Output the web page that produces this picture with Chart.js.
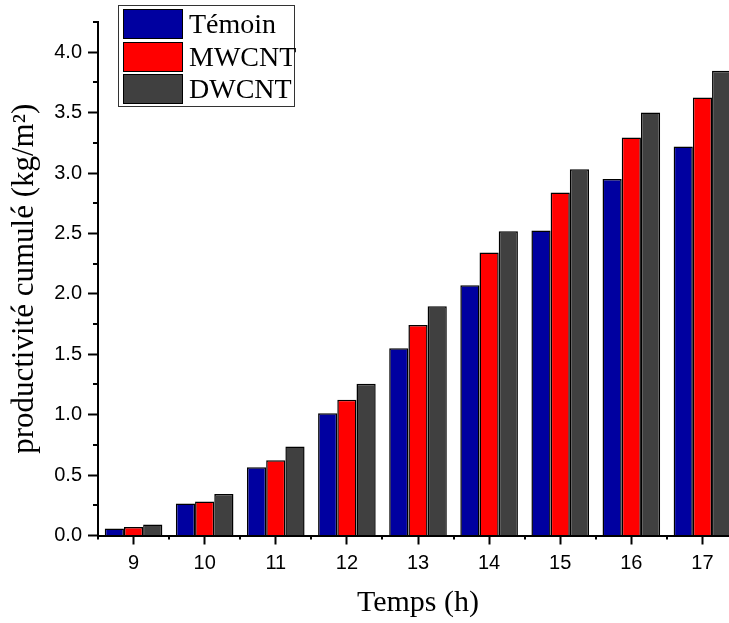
<!DOCTYPE html>
<html>
<head>
<meta charset="utf-8">
<script src="https://cdn.jsdelivr.net/npm/chart.js@4/dist/chart.umd.min.js"></script>
<style>
html,body{margin:0;padding:0;background:#fff;overflow:hidden;width:729px;height:623px;}
#wrap{position:relative;width:760px;height:623px;}
#c{display:block;}
#legend{position:absolute;left:118px;top:5px;width:177px;height:102px;border:1px solid #333;background:#fff;
  font-family:"Liberation Serif","Times New Roman",serif;font-size:28px;color:#000;box-sizing:border-box;}
.row{position:absolute;left:4px;height:30px;display:flex;align-items:center;white-space:nowrap;}
.sw{width:60px;height:30px;border:1px solid #000;box-sizing:border-box;margin-right:6px;}
</style>
</head>
<body>
<div id="wrap">
  <canvas id="c" width="760" height="623"></canvas>
  <div id="legend"></div>
</div>
<script>
// ---- data ----
const categories = ['9', '10', '11', '12', '13', '14', '15', '16', '17'];
const seriesNames = ['Témoin', 'MWCNT', 'DWCNT'];
const temoin = [0.058, 0.265, 0.565, 1.012, 1.550, 2.072, 2.525, 2.950, 3.220];
const mwcnt  = [0.071, 0.281, 0.623, 1.123, 1.743, 2.343, 2.839, 3.295, 3.626];
const dwcnt  = [0.091, 0.344, 0.737, 1.255, 1.898, 2.519, 3.032, 3.502, 3.846];
const seriesColors = ['#0000A0', '#FF0000', '#404040'];
const yMin = 0, yMax = 4.25, yStep = 0.5;
const xTitle = 'Temps (h)';
const yTitle = 'productivité cumulé (kg/m²)';

const seriesValues = [temoin, mwcnt, dwcnt];

const minorTicks = {
  id: 'minorTicks',
  afterDraw(chart) {
    const ctx = chart.ctx;
    const xs = chart.scales.x, ys = chart.scales.y;
    ctx.save();
    ctx.strokeStyle = '#000';
    ctx.lineWidth = 2;
    ctx.beginPath();
    for (let v = yMin + yStep / 2; v <= yMax + 1e-9; v += yStep) {
      const py = Math.round(ys.getPixelForValue(v));
      ctx.moveTo(ys.right - 5, py);
      ctx.lineTo(ys.right, py);
    }
    const half = (xs.getPixelForValue(1) - xs.getPixelForValue(0)) / 2;
    for (let i = 0; i <= categories.length; i++) {
      const px = Math.round(xs.getPixelForValue(i) - half);
      ctx.moveTo(px, xs.top);
      ctx.lineTo(px, xs.top + 4);
    }
    ctx.stroke();
    ctx.restore();
  }
};

const chart = new Chart(document.getElementById('c'), {
  type: 'bar',
  data: {
    labels: categories,
    datasets: seriesNames.map((name, i) => ({
      label: name,
      data: seriesValues[i],
      backgroundColor: seriesColors[i],
      borderColor: '#000',
      borderWidth: 1.5,
      categoryPercentage: 0.81,
      barPercentage: 1.0
    }))
  },
  options: {
    responsive: false,
    animation: false,
    devicePixelRatio: 1,
    layout: { padding: { top: 22, right: 22, bottom: 0, left: 0 } },
    plugins: { legend: { display: false }, tooltip: { enabled: false } },
    scales: {
      x: {
        offset: true,
        grid: { display: true, offset: false, drawOnChartArea: false, drawTicks: true,
                tickLength: 9, tickColor: '#000', tickWidth: 2 },
        border: { display: true, color: '#000', width: 2 },
        ticks: { color: '#000', padding: 7, maxRotation: 0,
                 font: { family: '"Liberation Sans", Arial, sans-serif', size: 20 } },
        title: { display: true, text: xTitle, color: '#000', padding: { top: 0, bottom: 2 },
                 font: { family: '"Liberation Serif", "Times New Roman", serif', size: 30 } },
        afterFit(s) { s.height = 87.5; }
      },
      y: {
        min: yMin, max: yMax,
        grid: { display: true, drawOnChartArea: false, drawTicks: true,
                tickLength: 10, tickColor: '#000', tickWidth: 2 },
        border: { display: true, color: '#000', width: 2 },
        ticks: { stepSize: yStep, includeBounds: false, color: '#000', padding: 6,
                 font: { family: '"Liberation Sans", Arial, sans-serif', size: 20 },
                 callback: v => Number(v).toFixed(1) },
        title: { display: true, text: yTitle, color: '#000', padding: { top: 6, bottom: 0 },
                 font: { family: '"Liberation Serif", "Times New Roman", serif', size: 31 } },
        afterFit(s) { s.width = 98; }
      }
    }
  },
  plugins: [minorTicks]
});

// HTML legend built from the datasets
const leg = document.getElementById('legend');
chart.data.datasets.forEach((ds, i) => {
  const row = document.createElement('div');
  row.className = 'row';
  row.style.top = (3 + i * 32.7) + 'px';
  const sw = document.createElement('div');
  sw.className = 'sw';
  sw.style.background = ds.backgroundColor;
  const tx = document.createElement('span');
  tx.textContent = ds.label;
  row.appendChild(sw);
  row.appendChild(tx);
  leg.appendChild(row);
});
</script>
</body>
</html>
